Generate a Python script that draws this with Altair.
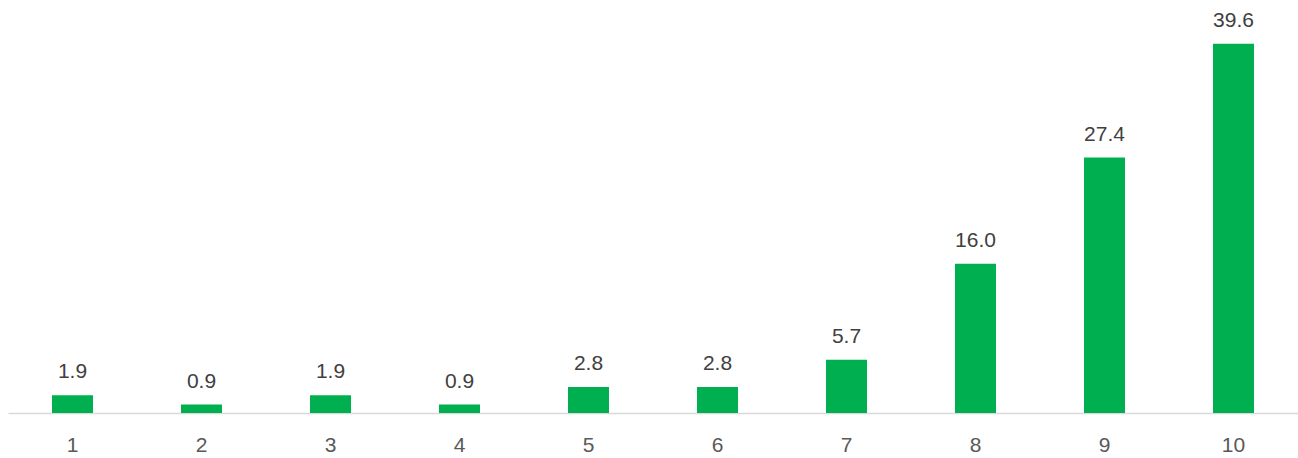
import altair as alt
import pandas as pd

categories = ["1", "2", "3", "4", "5", "6", "7", "8", "9", "10"]
values = [1.9, 0.9, 1.9, 0.9, 2.8, 2.8, 5.7, 16.0, 27.4, 39.6]
labels = ["1.9", "0.9", "1.9", "0.9", "2.8", "2.8", "5.7", "16.0", "27.4", "39.6"]

df = pd.DataFrame({"cat": categories, "val": values, "lab": labels})

FONT = "Liberation Sans"

x = alt.X("cat:N", sort=categories, title=None,
          scale=alt.Scale(paddingInner=0.68, paddingOuter=0.34),
          axis=alt.Axis(labelAngle=0, labelFontSize=21, labelColor="#595959",
                        labelFont=FONT, ticks=False, domainColor="#d9d9d9",
                        domainWidth=1.5, labelPadding=21, grid=False))
y = alt.Y("val:Q", scale=alt.Scale(domain=[0, 44.3], nice=False, zero=True),
          axis=None)

bars = alt.Chart(df).mark_bar(color="#00B050", size=41).encode(x=x, y=y)
text = alt.Chart(df).mark_text(fontSize=21, font=FONT, color="#404040",
                               baseline="alphabetic", dy=-17).encode(
    x=alt.X("cat:N", sort=categories), y="val:Q", text="lab:N")

chart = (bars + text).properties(
    width=1290, height=413,
    background="white",
    autosize=alt.AutoSizeParams(type="none"),
    padding={"left": 8, "top": 0, "right": 0, "bottom": 45},
).configure_view(stroke=None, strokeWidth=0)

chart.save("out.html", embed_options={"renderer": "svg", "actions": False})
